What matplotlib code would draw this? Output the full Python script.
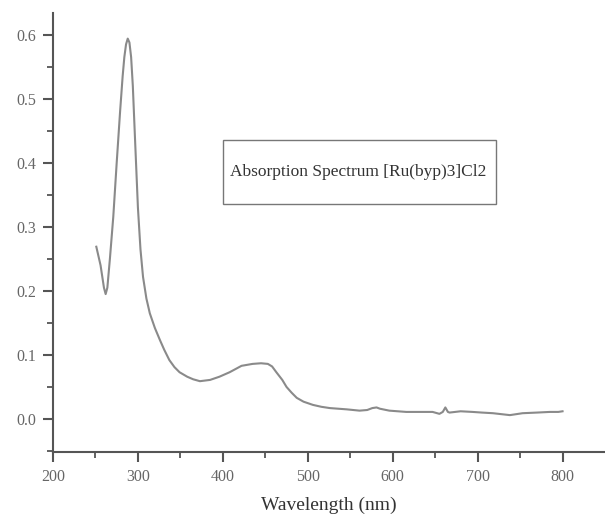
import numpy as np
import matplotlib.pyplot as plt
from matplotlib.patches import Rectangle

# absorption spectrum
wavelength = [251, 256, 260, 262, 264, 267, 271, 275, 279, 282, 284, 286, 288, 290,
              292, 294, 296.5, 300, 303, 306, 310, 314, 320, 326, 331, 337, 343, 349,
              358, 365, 373, 385, 396, 408, 415, 422, 435, 445, 453, 458, 463, 470,
              475, 481, 487, 495, 506, 516, 526, 546, 561, 570, 576, 581, 585, 596,
              616, 647, 655, 659, 662, 665, 667, 680, 694, 705, 718, 738, 753, 770,
              785, 795, 800]
absorb = [0.269, 0.24, 0.205, 0.195, 0.205, 0.25, 0.316, 0.40, 0.48, 0.535, 0.565,
          0.585, 0.594, 0.588, 0.565, 0.52, 0.44, 0.33, 0.265, 0.222, 0.188, 0.165,
          0.142, 0.123, 0.108, 0.092, 0.081, 0.073, 0.066, 0.062, 0.059, 0.061, 0.066,
          0.073, 0.078, 0.083, 0.086, 0.087, 0.086, 0.082, 0.073, 0.061, 0.05, 0.041,
          0.033, 0.027, 0.022, 0.019, 0.017, 0.015, 0.013, 0.014, 0.017, 0.018, 0.016,
          0.013, 0.011, 0.011, 0.008, 0.011, 0.018, 0.011, 0.01, 0.012, 0.011, 0.01,
          0.009, 0.006, 0.009, 0.01, 0.011, 0.011, 0.012]

xticks = [200, 300, 400, 500, 600, 700, 800]
yticks = [0.0, 0.1, 0.2, 0.3, 0.4, 0.5, 0.6]
legend_text = "Absorption Spectrum [Ru(byp)3]Cl2"

plt.rcParams["font.family"] = ["Liberation Serif", "DejaVu Serif"]

fig = plt.figure(figsize=(6.05, 5.18), dpi=100)
ax = fig.add_axes([0.0876, 0.1274, 0.9124, 0.8475])

ax.plot(wavelength, absorb, color="#8a8a8a", lw=1.5)

ax.set_xlim(200, 850)
ax.set_ylim(-0.0516, 0.634)
ax.set_xticks(xticks)
ax.set_xticks(np.arange(250, 850, 100), minor=True)
ax.set_yticks(yticks)
ax.set_yticks(np.arange(-0.05, 0.6, 0.1), minor=True)
ax.set_yticklabels([f"{v:.1f}" for v in yticks])

for s in ["top", "right"]:
    ax.spines[s].set_visible(False)
for s in ["left", "bottom"]:
    ax.spines[s].set_color("#555555")
    ax.spines[s].set_linewidth(1.5)

ax.tick_params(which="major", length=7, width=1.5, color="#555555",
               labelsize=11.5, labelcolor="#666666", pad=5)
ax.tick_params(which="minor", length=4, width=1.3, color="#555555")

ax.set_xlabel("Wavelength (nm)", fontsize=14, color="#333333", labelpad=9)

# boxed caption
ax.add_patch(Rectangle((400, 0.336), 322, 0.100, fill=False,
                       edgecolor="#777777", lw=1.0))
ax.text(409, 0.386, legend_text, fontsize=12.5, color="#333333",
        va="center", ha="left")

fig.savefig("out.png", dpi=100)
